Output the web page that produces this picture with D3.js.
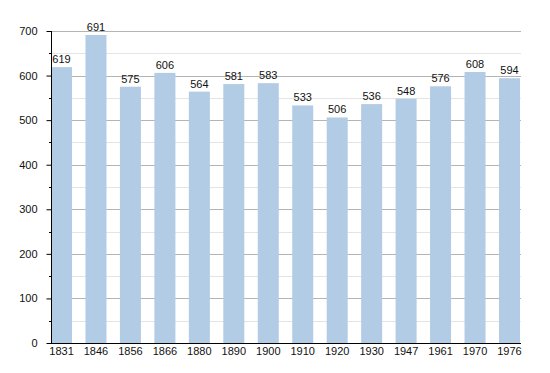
<!DOCTYPE html>
<html>
<head>
<meta charset="utf-8">
<script src="https://cdn.jsdelivr.net/npm/d3@7"></script>
<style>
  body { margin: 0; background: #fff; }
  text { font-family: "Liberation Sans", Arial, sans-serif; }
</style>
</head>
<body>
<svg width="550" height="373"></svg>
<script>
const years = ["1831", "1846", "1856", "1866", "1880", "1890", "1900", "1910", "1920", "1930", "1947", "1961", "1970", "1976"];
const population = [619, 691, 575, 606, 564, 581, 583, 533, 506, 536, 548, 576, 608, 594];
const yTicks = [0, 100, 200, 300, 400, 500, 600, 700];
const yMinor = [50, 150, 250, 350, 450, 550, 650];

const svg = d3.select("svg");
const plotLeft = 51, plotRight = 520, plotTop = 31, plotBottom = 343;

const x = d3.scaleBand().domain(years).range([plotLeft, plotRight]).paddingInner(0.39).paddingOuter(0);
const y = d3.scaleLinear().domain([0, 700]).range([plotBottom, plotTop]);

// grid
svg.append("g").selectAll("line").data(yMinor).enter().append("line")
  .attr("x1", plotLeft).attr("x2", plotRight + 1)
  .attr("y1", d => Math.round(y(d)) + 0.5).attr("y2", d => Math.round(y(d)) + 0.5)
  .attr("stroke", "#e4e4e4");
svg.append("g").selectAll("line").data(yTicks.slice(1)).enter().append("line")
  .attr("x1", plotLeft).attr("x2", plotRight + 1)
  .attr("y1", d => Math.round(y(d)) + 0.5).attr("y2", d => Math.round(y(d)) + 0.5)
  .attr("stroke", "#b4b4b4");

// bars
svg.append("g").selectAll("rect").data(population).enter().append("rect")
  .attr("x", (d, i) => x(years[i]))
  .attr("width", x.bandwidth())
  .attr("y", d => y(d))
  .attr("height", d => plotBottom - y(d))
  .attr("fill", "#b3cce5");

// value labels
svg.append("g").selectAll("text").data(population).enter().append("text")
  .attr("x", (d, i) => x(years[i]) + x.bandwidth() / 2)
  .attr("y", d => y(d) - 4)
  .attr("text-anchor", "middle")
  .attr("font-size", 11)
  .attr("fill", "#111")
  .text(d => d);

// y axis
const yAxis = d3.axisLeft(y).tickValues(yTicks).tickSize(5).tickPadding(9);
const gy = svg.append("g").attr("transform", `translate(${plotLeft + 0.5},0)`).call(yAxis);
gy.select(".domain").attr("stroke", "#000").attr("d", `M0,${plotTop}V${plotBottom}`);
gy.selectAll("text").attr("font-size", 11).attr("fill", "#111").attr("font-family", null);
svg.append("g").selectAll("line").data(yMinor).enter().append("line")
  .attr("x1", plotLeft - 2).attr("x2", plotLeft)
  .attr("y1", d => Math.round(y(d)) + 0.5).attr("y2", d => Math.round(y(d)) + 0.5)
  .attr("stroke", "#000");

// x axis
const xAxis = d3.axisBottom(x).tickSize(0).tickPadding(4);
const gx = svg.append("g").attr("transform", `translate(0,${plotBottom + 0.5})`).call(xAxis);
gx.select(".domain").attr("stroke", "#000").attr("d", `M${plotLeft},0H${plotRight + 1}`);
gx.selectAll("text").attr("font-size", 11).attr("fill", "#111").attr("font-family", null);
</script>
</body>
</html>
